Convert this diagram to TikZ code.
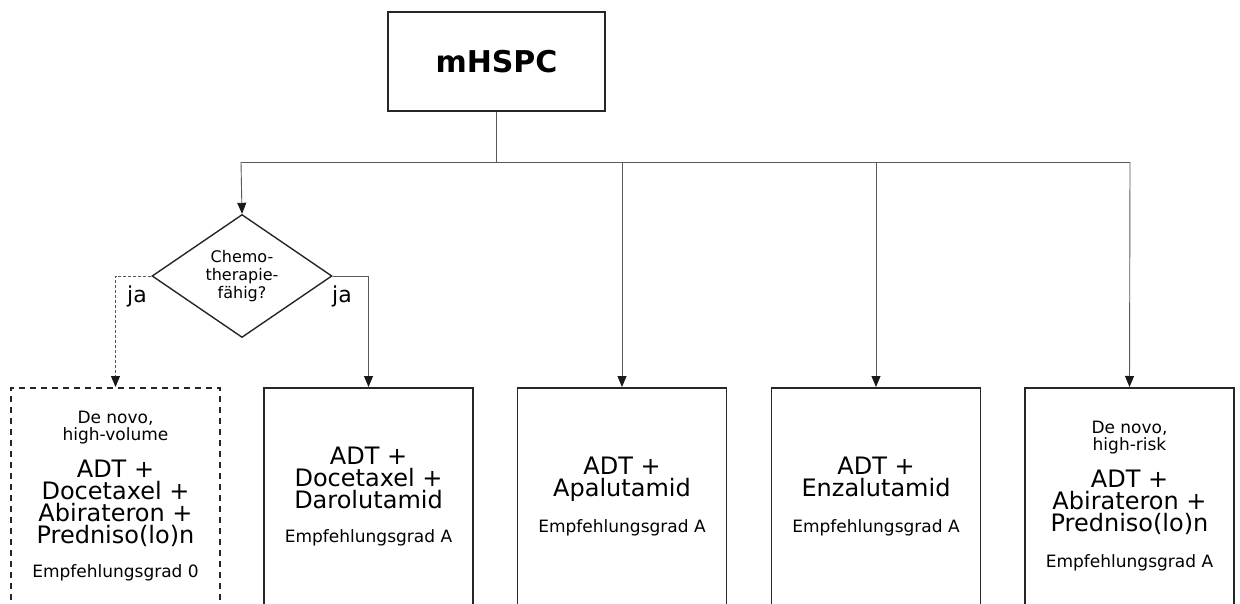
\documentclass[tikz,border=0pt]{standalone}
\usepackage{fontspec}
\setmainfont{DejaVu Sans}
\usetikzlibrary{arrows.meta,shapes.geometric}

\tikzset{
  line/.style={draw=black!65,line width=0.9pt},
  arr/.style={line,-{Triangle[length=11pt,width=9pt,color=black!90]}},
  dashline/.style={arr,dash pattern=on 3pt off 2pt},
  topbox/.style={draw=black!85,line width=1.6pt,minimum width=217pt,minimum height=99pt,
    font=\bfseries\fontsize{30}{34}\selectfont},
  box/.style={draw=black!85,line width=1.6pt,minimum width=209pt,minimum height=300pt,anchor=north},
  dashbox/.style={box,dash pattern=on 6pt off 5pt},
  question/.style={draw=black!85,line width=1.4pt,diamond,aspect=1.46,inner sep=0pt,
    minimum width=180pt,minimum height=123pt,align=center,font=\fontsize{16}{18}\selectfont},
  note/.style={anchor=base,align=center,font=\fontsize{17}{16.5}\selectfont},
  drug/.style={anchor=base,align=center,font=\fontsize{24}{22}\selectfont},
  grade/.style={anchor=base,font=\fontsize{17}{17}\selectfont},
  yes/.style={anchor=base,font=\fontsize{22}{24}\selectfont}
}

\begin{document}
\begin{tikzpicture}[x=1pt,y=-1pt]
\useasboundingbox (0,0) rectangle (1240,604);
\clip (0,0) rectangle (1240,604);

\node[topbox] (top) at (496.5,61.5) {mHSPC};
\node[question] (chemo) at (242,276) {Chemo-\\therapie-\\fähig?};

\node[dashbox] (b1) at (115.5,387) {};
\node[box] (b2) at (368.5,387) {};
\node[box] (b3) at (622,387) {};
\node[box] (b4) at (876,387) {};
\node[box] (b5) at (1129.5,387) {};

\coordinate (busL) at (241,162);
\coordinate (busR) at (1130,162);

\draw[line] (top.south) |- (busL);
\draw[line] (top.south) |- (busR);
\draw[arr] (busL) -- (chemo.north);
\draw[arr] (b3.north |- busL) -- (b3.north);
\draw[arr] (b4.north |- busL) -- (b4.north);
\draw[arr] (busR) -- (b5.north);
\draw[dashline] (chemo.west) -| (b1.north);
\draw[arr] (chemo.east) -| (b2.north);

\node[yes] (ja1) at (137,302) {ja};
\node[yes] (ja2) at (342,302) {ja};

\node[note] (n1) at (115.5,440) {De novo,\\high-volume};
\node[drug] (d1) at (115.5,543) {ADT +\\Docetaxel +\\Abirateron +\\Predniso(lo)n};
\node[grade] (g1) at (115.5,577) {Empfehlungsgrad 0};

\node[drug] (d2) at (368.5,508) {ADT +\\Docetaxel +\\Darolutamid};
\node[grade] (g2) at (368.5,542) {Empfehlungsgrad A};

\node[drug] (d3) at (622,496) {ADT +\\Apalutamid};
\node[grade] (g3) at (622,532) {Empfehlungsgrad A};

\node[drug] (d4) at (876,496) {ADT +\\Enzalutamid};
\node[grade] (g4) at (876,532) {Empfehlungsgrad A};

\node[note] (n5) at (1129.5,450) {De novo,\\high-risk};
\node[drug] (d5) at (1129.5,531) {ADT +\\Abirateron +\\Predniso(lo)n};
\node[grade] (g5) at (1129.5,567) {Empfehlungsgrad A};
\end{tikzpicture}
\end{document}
